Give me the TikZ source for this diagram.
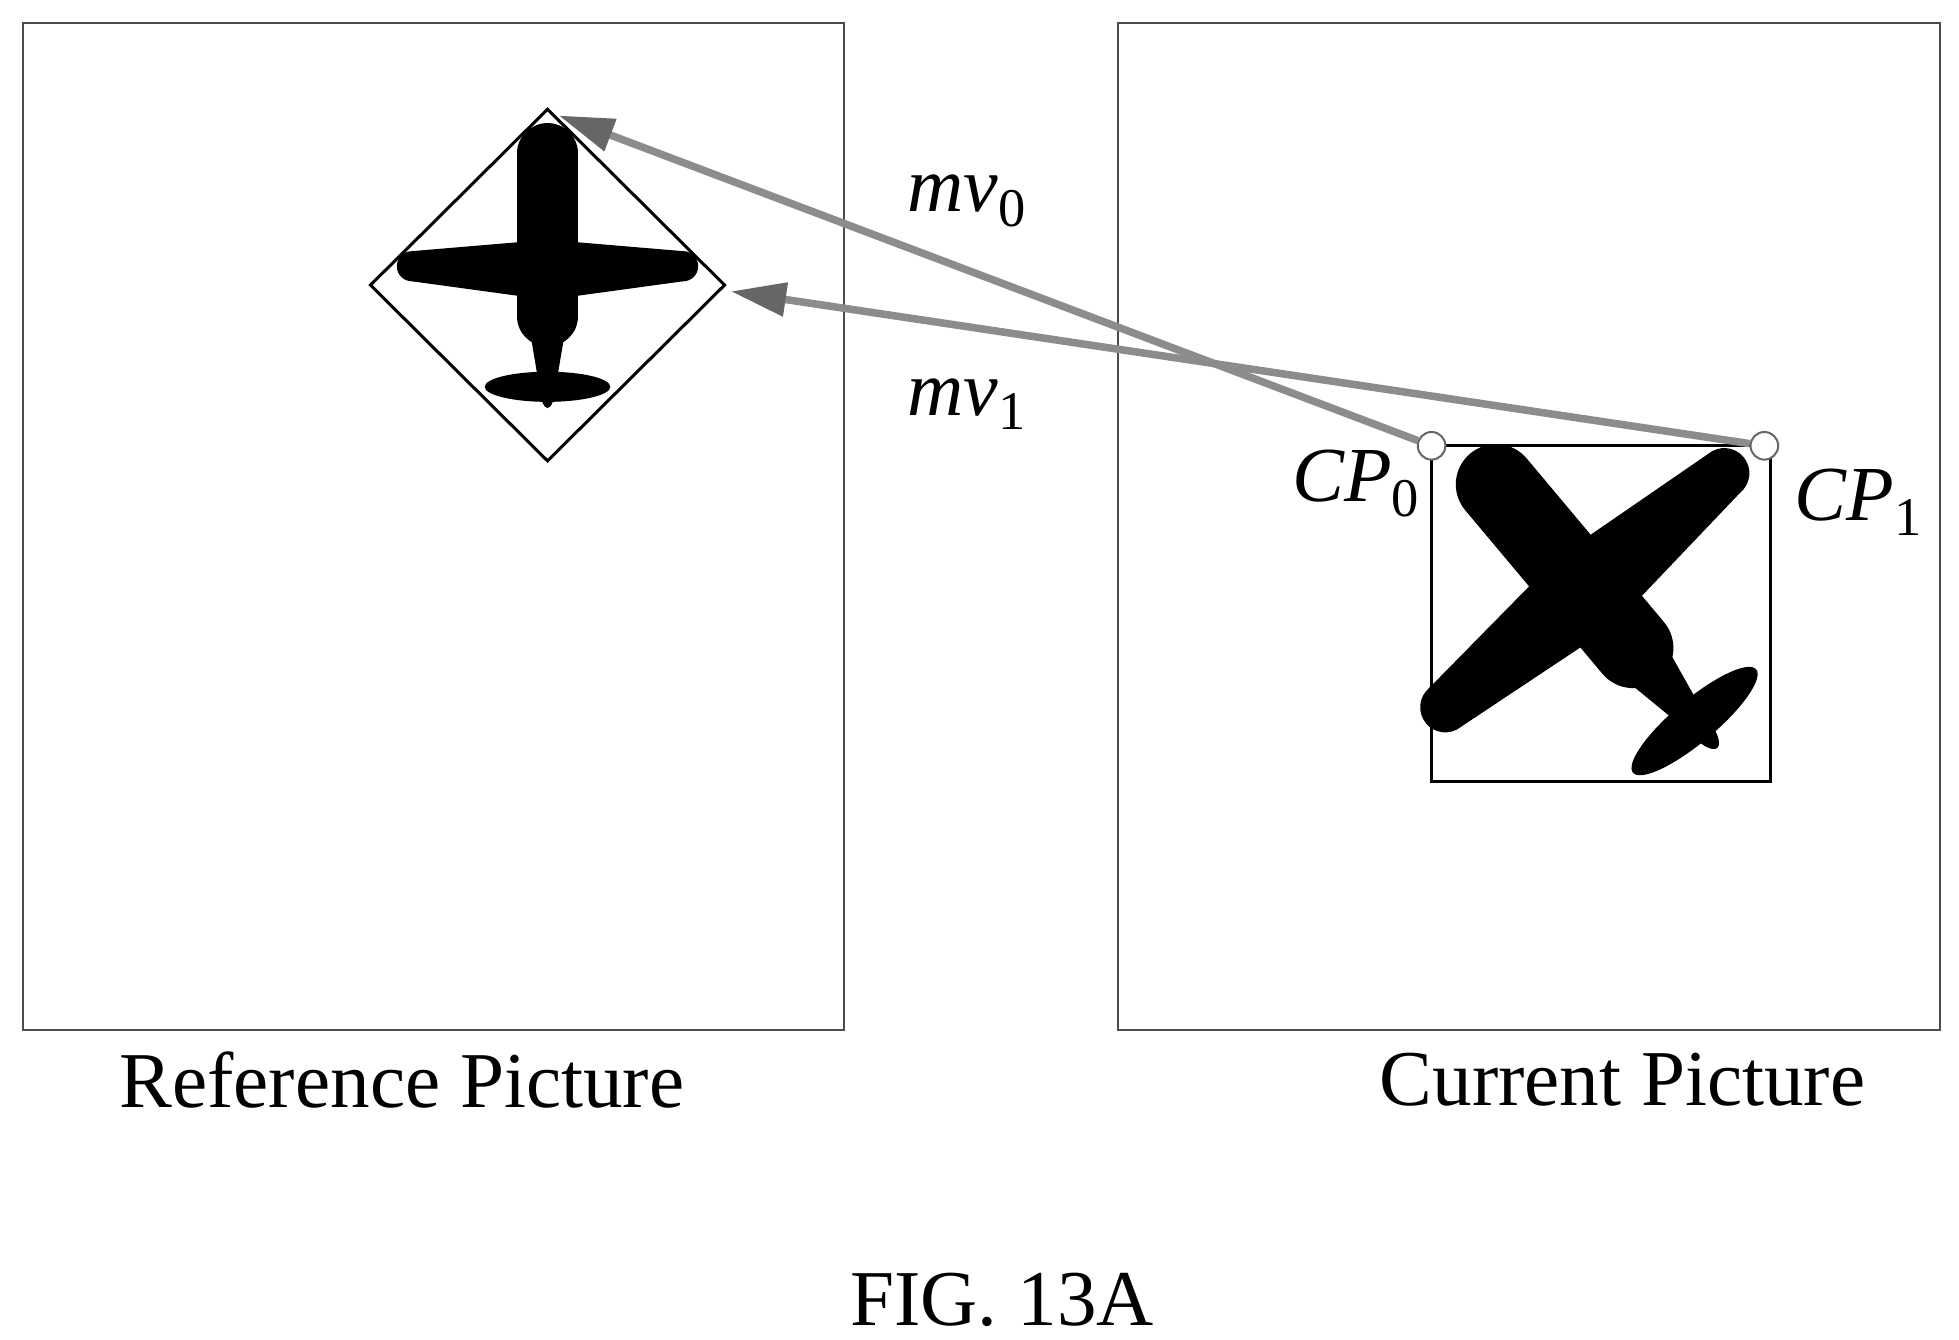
\documentclass[tikz,border=0pt]{standalone}
\usepackage{fontspec}
\setmainfont{Liberation Serif}
\usetikzlibrary{arrows.meta}
\begin{document}
\begin{tikzpicture}[x=0.5pt,y=-0.5pt,
  frame/.style={draw=black!70,line width=0.8pt},
  mv/.style={draw=black!45,line width=3pt,-{Triangle[length=22pt,width=13pt,fill=black!60,color=black!60]}},
  lab/.style={font=\fontsize{31}{34}\selectfont,inner sep=0pt},
  big/.style={font=\fontsize{31.5}{34}\selectfont,inner sep=0pt},
  cp/.style={circle,draw=black!60,fill=white,minimum size=11pt,inner sep=0pt,line width=0.8pt}]
\useasboundingbox (0,0) rectangle (1560,1067);
% frames
\draw[frame] (18,18) rectangle (672,820);
\draw[frame] (890,18) rectangle (1545,820);
\node[big] (rp) at (320,860) {Reference Picture};
\node[big] (cur) at (1292,860) {Current Picture};
\node[big] (fig) at (798,1035) {FIG. 13A};
% diamond and left plane
\draw[line width=1.2pt] (295,227) -- (436,87) -- (577,227) -- (436,367) -- cycle;
\begin{scope}[shift={(436,212)}]
  \draw[line width=24pt,line cap=round] (0,-90) -- (0,40);
  \fill (-16,40) -- (16,40) -- (5,105) -- (-5,105) -- cycle;
  \fill (-13,-20) -- (-108,-12) -- (-108,12) -- (-13,25) -- cycle;
  \fill (13,-20) -- (108,-12) -- (108,12) -- (13,25) -- cycle;
  \fill (-108,0) circle (12);
  \fill (108,0) circle (12);
  \fill (0,96) ellipse (50 and 12);
  \fill (0,95) ellipse (6 and 18);
\end{scope}
% right rectangle and plane
\draw[line width=1.2pt] (1140,355) rectangle (1410,622);
\begin{scope}[shift={(1262,470)},rotate=40]
  \draw[line width=32pt,line cap=round] (0,-110) -- (0,60);
  \fill (-24,60) -- (24,60) -- (8,145) -- (-8,145) -- cycle;
  \fill (-20,-32) -- (-145,-20) -- (-145,20) -- (-20,34) -- cycle;
  \fill (20,-32) -- (145,-20) -- (145,20) -- (20,34) -- cycle;
  \fill (-145,0) circle (20);
  \fill (145,0) circle (20);
  \fill (0,136) ellipse (64 and 17);
  \fill (0,140) ellipse (9 and 24);
\end{scope}
% control points
\node[cp] (cp0) at (1140,355) {};
\node[cp] (cp1) at (1405,355) {};
\coordinate (t0) at (445,92);
\coordinate (t1) at (582,232);
\draw[mv] (cp0) -- (t0);
\draw[mv] (cp1) -- (t1);
\node[lab] (l0) at (770,160) {\textit{mv}\textsubscript{0}};
\node[lab] (l1) at (770,322) {\textit{mv}\textsubscript{1}};
\node[lab] (c0) at (1080,385) {\textit{CP}\textsubscript{0}};
\node[lab] (c1) at (1480,400) {\textit{CP}\textsubscript{1}};
\end{tikzpicture}
\end{document}
